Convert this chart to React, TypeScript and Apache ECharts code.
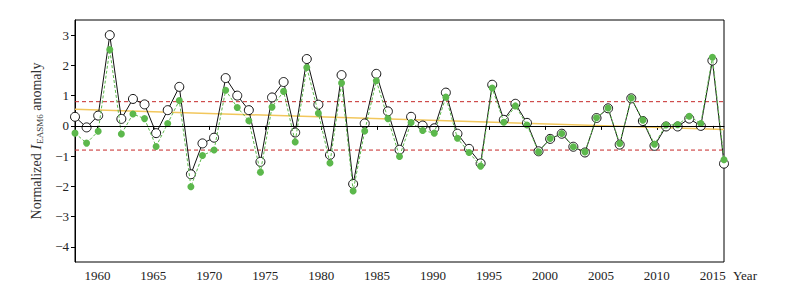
import React, { useEffect, useRef } from "react";
import * as echarts from "echarts";

// x range of the series (57 values spread evenly from 1958 to 2016)
const xStart = 1958;
const xEnd = 2016;

// Open circles: normalized I_EASM6 anomaly
const openValues = [
  0.30, -0.05, 0.34, 3.0, 0.23, 0.89, 0.71, -0.24, 0.52, 1.29,
  -1.60, -0.58, -0.39, 1.58, 1.00, 0.52, -1.19, 0.94, 1.45, -0.22,
  2.21, 0.70, -0.96, 1.68, -1.92, 0.08, 1.72, 0.48, -0.79, 0.30,
  0.01, -0.08, 1.10, -0.26, -0.76, -1.24, 1.36, 0.20, 0.73, 0.10,
  -0.84, -0.43, -0.26, -0.69, -0.88, 0.26, 0.58, -0.62, 0.91, 0.16,
  -0.66, -0.02, -0.02, 0.24, 0.00, 2.16, -1.25,
];

// Green dots: second series
const greenValues = [
  -0.24, -0.57, -0.18, 2.52, -0.27, 0.39, 0.24, -0.68, 0.08, 0.84,
  -2.01, -0.98, -0.80, 1.18, 0.61, 0.17, -1.53, 0.62, 1.14, -0.53,
  1.93, 0.42, -1.23, 1.42, -2.15, -0.17, 1.49, 0.24, -1.01, 0.11,
  -0.15, -0.24, 0.95, -0.41, -0.88, -1.33, 1.25, 0.12, 0.66, 0.03,
  -0.86, -0.42, -0.25, -0.69, -0.86, 0.27, 0.59, -0.58, 0.92, 0.19,
  -0.61, 0.03, 0.04, 0.32, 0.08, 2.27, -1.12,
];

// Linear trend endpoints (yellow line)
const trendYears = [1958, 2016];
const trendValues = [0.55, -0.12];

// Reference lines
const stdLines = [0.8, -0.8];
const zeroLine = 0;

// Tick labels
const xTicks = [1960, 1965, 1970, 1975, 1980, 1985, 1990, 1995, 2000, 2005, 2010, 2015];
const yTicks = [-4, -3, -2, -1, 0, 1, 2, 3];

const FONT = "Liberation Serif";

export default function App() {
  const ref = useRef<HTMLDivElement>(null);

  useEffect(() => {
    document.body.style.margin = "0";
    if (!ref.current) return;
    const chart = echarts.init(ref.current, undefined, { renderer: "svg" });
    const n = openValues.length;
    const xs = openValues.map((_, i) => xStart + (i * (xEnd - xStart)) / (n - 1));
    const openData = openValues.map((v, i) => [xs[i], v]);
    const greenData = greenValues.map((v, i) => [xs[i], v]);
    const trendData = trendYears.map((y, i) => [y, trendValues[i]]);
    const fmtNum = (v: number) => (v < 0 ? "\u2212" + Math.abs(v) : String(v));

    const stdSeries = stdLines.map((v) => ({
      type: "line",
      data: [
        [xStart, v],
        [xEnd, v],
      ],
      symbol: "none",
      silent: true,
      lineStyle: { color: "#c62828", width: 1, type: [4, 3] },
      z: 1,
    }));

    chart.setOption({
      animation: false,
      backgroundColor: "#fff",
      textStyle: { fontFamily: FONT },
      grid: {
        left: 75,
        right: 61,
        top: 20,
        bottom: 32,
        show: true,
        borderColor: "#000",
        borderWidth: 1,
        backgroundColor: "transparent",
      },
      xAxis: {
        type: "value",
        min: xStart,
        max: xEnd,
        splitLine: { show: false },
        axisLine: { show: true, lineStyle: { color: "#000", width: 1 } },
        axisTick: {
          show: true,
          length: 4,
          lineStyle: { color: "#000" },
          customValues: xTicks,
        },
        axisLabel: {
          customValues: xTicks,
          color: "#222",
          fontFamily: FONT,
          fontSize: 13,
          margin: 7,
          formatter: (v: number) => String(v),
        },
      },
      yAxis: {
        type: "value",
        min: -4.5,
        max: 3.5,
        splitLine: { show: false },
        axisLine: { show: true, lineStyle: { color: "#000", width: 1 } },
        axisTick: {
          show: true,
          length: 4,
          lineStyle: { color: "#000" },
          customValues: yTicks,
        },
        axisLabel: {
          customValues: yTicks,
          color: "#222",
          fontFamily: FONT,
          fontSize: 13,
          margin: 6,
          formatter: fmtNum,
        },
        name: "{t|Normalized }{i|I}{s|EASM6}{t| anomaly}",
        nameLocation: "middle",
        nameRotate: 90,
        nameGap: 29,
        nameTextStyle: {
          fontFamily: FONT,
          color: "#333",
          rich: {
            t: { fontFamily: FONT, fontSize: 14, color: "#333" },
            i: { fontFamily: FONT, fontSize: 15, fontStyle: "italic", color: "#333" },
            s: { fontFamily: FONT, fontSize: 9, color: "#333", padding: [7, 0, 0, 1] },
          },
        },
      },
      graphic: [
        {
          type: "text",
          left: 733,
          top: 269,
          style: { text: "Year", fill: "#222", font: `13px ${FONT}` },
        },
      ],
      series: [
        ...stdSeries,
        {
          type: "line",
          data: trendData,
          symbol: "none",
          silent: true,
          lineStyle: { color: "#f2c75c", width: 1.5 },
          z: 1,
        },
        {
          type: "line",
          data: openData,
          symbol: "circle",
          symbolSize: 9,
          showAllSymbol: true,
          lineStyle: { color: "#111", width: 1 },
          itemStyle: { color: "#fff", borderColor: "#111", borderWidth: 1 },
          z: 3,
          markLine: {
            silent: true,
            symbol: "none",
            label: { show: false },
            lineStyle: { color: "#000", width: 1, type: "solid" },
            data: [{ yAxis: zeroLine }],
          },
        },
        {
          type: "line",
          data: greenData,
          symbol: "circle",
          symbolSize: 7,
          showAllSymbol: true,
          lineStyle: { color: "#5cb84c", width: 1, type: [3, 2] },
          itemStyle: { color: "#5cb84c" },
          z: 4,
        },
      ],
    });
    return () => chart.dispose();
  }, []);

  return <div ref={ref} style={{ width: 785, height: 294 }} />;
}
